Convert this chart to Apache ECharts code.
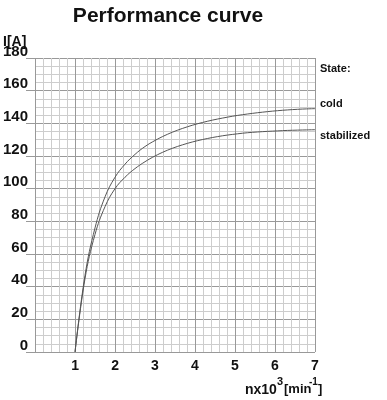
<!DOCTYPE html>
<html>
<head>
<meta charset="utf-8">
<script src="https://cdn.jsdelivr.net/npm/echarts@6/dist/echarts.min.js"></script>
<style>html,body{margin:0;padding:0;background:#fff}#c{width:387px;height:400px}</style>
</head>
<body>
<div id="c"></div>
<script>
var xs = [1, 1.25, 1.5, 1.75, 2, 2.25, 2.5, 2.75, 3, 3.25, 3.5, 3.75, 4, 4.25, 4.5, 4.75, 5, 5.25, 5.5, 5.75, 6, 6.25, 6.5, 6.75, 7];
var cold = [0, 47, 76, 95, 107, 115, 121, 125.8, 129.5, 132.6, 135.2, 137.4, 139.3, 140.9, 142.3, 143.5, 144.6, 145.5, 146.3, 147, 147.6, 148.1, 148.5, 148.8, 149];
var stabilized = [0, 45, 72, 89, 100, 107, 112.3, 116.5, 120, 122.9, 125.3, 127.3, 129, 130.4, 131.6, 132.6, 133.4, 134.1, 134.6, 135, 135.3, 135.6, 135.8, 135.95, 136.1];
var xTicks = ['', '1', '2', '3', '4', '5', '6', '7'];
var seriesNames = ['cold', 'stabilized'];

function pairs(v) { return xs.map(function (x, i) { return [x, v[i]]; }); }

var chart = echarts.init(document.getElementById('c'));
var F = 'Liberation Sans, Arial, sans-serif';
chart.setOption({
  animation: false,
  grid: { left: 32, right: 72, top: 58, bottom: 48 },
  xAxis: {
    type: 'value', min: 0, max: 7, interval: 1,
    axisLine: { show: false },
    axisTick: { show: false },
    minorTick: { show: false, splitNumber: 5 },
    splitLine: { show: true, lineStyle: { color: '#999', width: 1 } },
    minorSplitLine: { show: true, lineStyle: { color: '#cdcdcd', width: 1 } },
    axisLabel: { margin: 7, color: '#111', fontFamily: F, fontWeight: 'bold', fontSize: 14,
      formatter: function (v) { return xTicks[Math.round(v)]; } }
  },
  yAxis: {
    type: 'value', min: 0, max: 180, interval: 20,
    axisLine: { show: false },
    axisTick: { show: true, length: 9, lineStyle: { color: '#999' } },
    minorTick: { show: false, splitNumber: 4 },
    splitLine: { show: true, lineStyle: { color: '#999', width: 1 } },
    minorSplitLine: { show: true, lineStyle: { color: '#cdcdcd', width: 1 } },
    axisLabel: { margin: 7, color: '#111', fontFamily: F, fontWeight: 'bold', fontSize: 15,
      verticalAlign: 'bottom', lineHeight: 13 }
  },
  series: [0, 1].map(function (i) {
    return {
      name: seriesNames[i], type: 'line', smooth: 0.4, showSymbol: false,
      data: pairs(i === 0 ? cold : stabilized),
      lineStyle: { color: '#555', width: 1 },
      endLabel: { show: true, formatter: '{a}', color: '#111', fontFamily: F, fontWeight: 'bold',
        fontSize: 11, distance: 5, offset: [0, i === 0 ? -5 : 6] }
    };
  }),
  graphic: [
    { type: 'text', x: 168, y: 6, style: { text: 'Performance curve', textAlign: 'center', fill: '#111', font: 'bold 21px ' + F } },
    { type: 'text', x: 3, y: 35, style: { text: 'I[A]', fill: '#111', font: 'bold 14px ' + F } },
    { type: 'text', x: 320, y: 63, style: { text: 'State:', fill: '#111', font: 'bold 11px ' + F } },
    { type: 'text', x: 245, y: 383, style: { text: 'nx10', fill: '#111', font: 'bold 14px ' + F } },
    { type: 'text', x: 277, y: 376, style: { text: '3', fill: '#111', font: 'bold 11px ' + F } },
    { type: 'text', x: 284, y: 383, style: { text: '[min', fill: '#111', font: 'bold 13px ' + F } },
    { type: 'text', x: 309, y: 377, style: { text: '-1', fill: '#111', font: 'bold 10px ' + F } },
    { type: 'text', x: 318, y: 383, style: { text: ']', fill: '#111', font: 'bold 13px ' + F } }
  ]
});
</script>
</body>
</html>
